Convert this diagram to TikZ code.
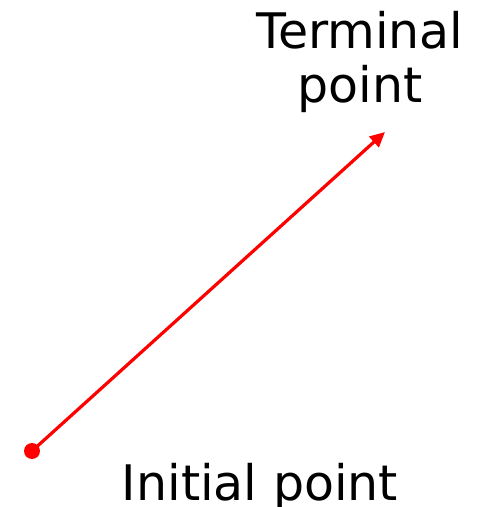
\documentclass[tikz,border=0pt]{standalone}
\usepackage{fontspec}
\setmainfont{DejaVu Sans}
\usetikzlibrary{arrows.meta}
\begin{document}
\begin{tikzpicture}[x=1pt,y=1pt,
  lbl/.style={font=\fontsize{49}{54}\selectfont, inner sep=0pt, align=center},
  vec/.style={red, line width=3.2pt, -{Triangle[length=15pt,width=14pt]}}]
\useasboundingbox (0,0) rectangle (479,507);
\coordinate (init) at (32,56);
\coordinate (term) at (385,375);
\fill[red] (init) circle (8);
\draw[vec] (init) -- (term);
\node[lbl, anchor=base] (tl1) at (360,458) {Terminal};
\node[lbl, anchor=base] (tl2) at (360,404) {point};
\node[lbl, anchor=base] (il) at (260,6) {Initial point};
\end{tikzpicture}
\end{document}
